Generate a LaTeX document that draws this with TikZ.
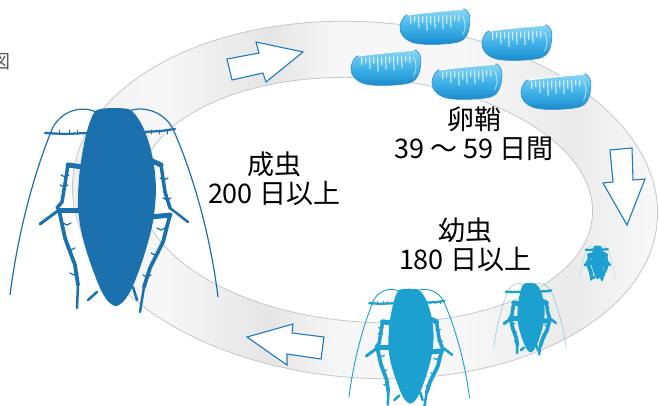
\documentclass[tikz,border=0pt]{standalone}
\usepackage{fontspec}
\setmainfont{Noto Sans CJK JP}
\definecolor{adultc}{HTML}{1A71AE}
\definecolor{nymphc}{HTML}{1BA0D0}
\definecolor{arrowc}{HTML}{1A7CC0}
\definecolor{bandedge}{HTML}{C6C7C8}
\definecolor{ooA}{HTML}{8AD6F5}
\definecolor{ooB}{HTML}{40B2E8}
\definecolor{ooC}{HTML}{1789CC}
\definecolor{ooE}{HTML}{2A90D0}
\definecolor{ooS}{HTML}{E6F7FF}
\pgfdeclarehorizontalshading{bandsh}{100bp}{color(0bp)=(black!5); color(25bp)=(black!6); color(33bp)=(black!3); color(42bp)=(black!10); color(48bp)=(black!3); color(58bp)=(black!3); color(67bp)=(black!8); color(75bp)=(black!2); color(100bp)=(black!2)}
\tikzset{
  arrowbox/.style={fill=white, draw=arrowc, line width=1.1pt, line join=miter},
  lbl/.style={align=center, font=\fontsize{27}{29}\selectfont, inner sep=0pt},
  ringline/.style={draw=bandedge, line width=0.8pt}
}
\newcommand\drawroach[7]{%
\begin{scope}[shift={(#1,#2)}, scale=#3]
  \draw[#4, line width=#6, opacity=#7] (-21,-93) .. controls (-36,-100) and (-55,-94) .. (-64,-78)
     .. controls (-80,-40) and (-98,20) .. (-107,90);
  \draw[#4, line width=#6, opacity=#7] (12,-94) .. controls (28,-100) and (48,-92) .. (56,-76)
     .. controls (72,-40) and (92,20) .. (101,92);
  \fill[#4] plot[smooth cycle, tension=0.5] coordinates {(-20,-95) (-5,-97) (11,-96) (17,-92) (25,-80) (32,-62) (37,-40) (39,-15) (37,10) (33,30) (25,57) (15,83) (6,97) (-2,101) (-10,95) (-17,83) (-27,57) (-35,30) (-39,3) (-38,-27) (-35,-50) (-31,-70) (-26,-86)};
  \begin{scope}[#4, line cap=round, line join=round]
    \draw[line width=#5] (-34,-38) -- (-49,-40);
    \draw[line width=0.7*#5] (-49,-40) -- (-55,-3) -- (-60,3);
    \draw[line width=#5] (-37,5) -- (-58,5);
    \draw[line width=0.6*#5] (-58,5) -- (-77,19);
    \draw[line width=0.75*#5] (-58,5) -- (-52,33) -- (-42,60) -- (-39,80);
    \draw[line width=0.5*#5] (-39,80) -- (-40,103);
    \draw[line width=#5] (33,-45) -- (44,-40);
    \draw[line width=0.7*#5] (44,-40) -- (48,-13) -- (53,3);
    \draw[line width=0.5*#5] (53,3) -- (71,17);
    \draw[line width=#5] (34,12) -- (53,10);
    \draw[line width=0.75*#5] (53,10) -- (46,37) -- (33,63) -- (27,82);
    \draw[line width=0.5*#5] (27,82) -- (23,107);
    \draw[line width=0.45*#5] (-30,-72) -- (-52,-71) -- (-72,-72);
    \draw[line width=0.45*#5] (26,-73) -- (44,-74) -- (58,-76);
    \draw[line width=0.5*#5] (-20,87) -- (-29,95);
    \draw[line width=0.5*#5] (16,82) -- (20,95);
    \foreach \a/\b in {-52/-28, -53/-18, -50/20, -46/45, -43/70, 47/-25, 50/-5, 44/25, 38/50, 30/72}
      \draw[line width=0.25*#5] (\a,\b) -- ++(-4,-2) (\a,\b) -- ++(4,-2);
    \foreach \a in {-66,-58,-48,-40, 34,42,50}
      \draw[line width=0.2*#5] (\a,-71) -- ++(0,-4);
  \end{scope}
\end{scope}}
\newcommand\oothec[3]{%
\begin{scope}[shift={(#1,#2)}, rotate=#3]
  \shade[top color=ooA, bottom color=ooC, middle color=ooB, draw=ooE, line width=0.6pt]
    (-28,-13) .. controls (-10,-15) and (12,-16) .. (30,-17)
    .. controls (34,-15) and (36,-10) .. (35,-4)
    .. controls (34,6) and (31,14) .. (22,16)
    .. controls (10,18) and (-12,18) .. (-22,15)
    .. controls (-31,12) and (-36,5) .. (-35,-2)
    .. controls (-34,-7) and (-31,-12) .. (-28,-13) -- cycle;
  \draw[white, line width=1.4pt] (-27,-13) .. controls (-10,-15) and (12,-16) .. (29,-17);
  \foreach \x/\l in {-24/-4, -20/-6, -16/0, -12/-5, -8/3, -4/-3, 0/1, 4/-5, 8/2, 12/-3, 16/0, 20/-6, 24/-5}
    \draw[ooS, line width=1.2pt, opacity=0.8, line cap=round] (\x,-11) -- (\x,\l);
  \draw[white, opacity=0.5, line width=1pt] (28,-10) .. controls (31,-4) and (31,4) .. (27,9);
\end{scope}}
\begin{document}
\begin{tikzpicture}[x=1pt, y=-1pt]
\useasboundingbox (0,0) rectangle (659,405);
\fill[white] (0,0) rectangle (659,405);
% ring band
\shade[shading=bandsh, even odd rule] [rotate around={-4:(365,200)}]
  (365,200) ellipse [x radius=293, y radius=178]
  (366,200) ellipse [x radius=227, y radius=122];
\draw[ringline, rotate around={-4:(365,200)}] (365,200) ellipse [x radius=293, y radius=178];
\draw[ringline, rotate around={-4:(365,200)}] (366,200) ellipse [x radius=227, y radius=122];
% figure label cut at left edge (as in the reference)
\node[text=black!65, font=\fontsize{19}{19}\selectfont, inner sep=0pt] (figlabel) at (1,62) {図};
% arrows
\draw[arrowbox] (227,59) -- (259,53) -- (256,42) -- (303,52) -- (266,82) -- (263,73) -- (232,80) -- cycle;
\draw[arrowbox] (610,150) -- (632,148) -- (633,180) -- (645,179) -- (627,225) -- (603,183) -- (613,182) -- cycle;
\draw[arrowbox] (247,337) -- (293,324) -- (292,333) -- (324,337) -- (321,359) -- (287,354) -- (287,365) -- cycle;
% egg cases
\oothec{435}{27}{2}
\oothec{517}{43}{2}
\oothec{386}{68}{2}
\oothec{467}{82}{2}
\oothec{556}{92}{2}
% cockroaches
\drawroach{117}{205}{1}{adultc}{5pt}{1.2pt}{1}
\drawroach{411}{345}{0.58}{nymphc}{5pt}{0.9pt}{1}
\drawroach{531}{317}{0.35}{nymphc}{5pt}{0.6pt}{0.45}
\drawroach{598}{262}{0.17}{nymphc}{5pt}{0.4pt}{0.35}
% labels
\node[lbl] (adult) at (274,179) {成虫\\200 日以上};
\node[lbl] (eggs) at (474,134) {卵鞘\\39 ～ 59 日間};
\node[lbl] (nymph) at (465,245) {幼虫\\180 日以上};
\end{tikzpicture}
\end{document}
